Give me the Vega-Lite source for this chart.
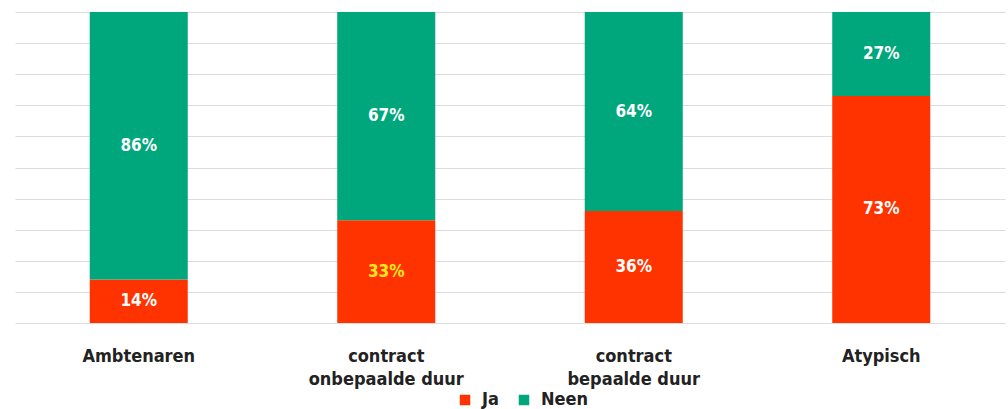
{
  "$schema": "https://vega.github.io/schema/vega-lite/v6.json",
  "width": 990,
  "height": 311,
  "autosize": {"type": "none"},
  "padding": {"left": 15, "top": 12, "right": 3, "bottom": 86},
  "background": "white",
  "config": {"view": {"stroke": null}, "font": "DejaVu Sans Condensed"},
  "data": {"values": [
    {"cat": "Ambtenaren", "ans": "Ja", "pct": 14},
    {"cat": "Ambtenaren", "ans": "Neen", "pct": 86},
    {"cat": "contract onbepaalde duur", "ans": "Ja", "pct": 33},
    {"cat": "contract onbepaalde duur", "ans": "Neen", "pct": 67},
    {"cat": "contract bepaalde duur", "ans": "Ja", "pct": 36},
    {"cat": "contract bepaalde duur", "ans": "Neen", "pct": 64},
    {"cat": "Atypisch", "ans": "Ja", "pct": 73},
    {"cat": "Atypisch", "ans": "Neen", "pct": 27}
  ]},
  "encoding": {
    "x": {"field": "cat", "type": "nominal", "sort": null,
      "scale": {"paddingInner": 0.604, "paddingOuter": 0.302},
      "axis": {"title": null, "domain": false, "ticks": false, "labelAngle": 0,
        "labelFont": "DejaVu Sans Condensed", "labelFontWeight": "bold", "labelFontSize": 18,
        "labelColor": "#222222", "labelPadding": 24, "labelLineHeight": 23,
        "labelExpr": "indexof(datum.value, 'contract ') == 0 ? ['contract', slice(datum.value, 9)] : datum.value"}}
  },
  "layer": [
    {
      "mark": {"type": "bar"},
      "encoding": {
        "y": {"field": "pct", "type": "quantitative", "stack": "zero",
          "scale": {"domain": [0, 100]},
          "axis": {"title": null, "labels": false, "ticks": false, "domain": false,
            "grid": true, "gridColor": "#dcdcdc", "gridWidth": 1.2, "values": [0,10,20,30,40,50,60,70,80,90,100]}},
        "order": {"field": "ans", "sort": "ascending"},
        "color": {"field": "ans", "type": "nominal",
          "scale": {"domain": ["Ja", "Neen"], "range": ["#FF3300", "#00A67C"]},
          "legend": {"title": null, "orient": "none", "direction": "horizontal",
            "legendX": 441, "legendY": 379, "symbolType": "square", "symbolSize": 110,
            "labelFont": "DejaVu Sans Condensed", "labelFontWeight": "bold", "labelFontSize": 18,
            "labelColor": "#222222", "columnPadding": 16, "labelOffset": 8}}
      }
    },
    {
      "transform": [
        {"stack": "pct", "groupby": ["cat"], "sort": [{"field": "ans", "order": "ascending"}], "as": ["y0", "y1"]},
        {"calculate": "(datum.y0 + datum.y1) / 2", "as": "ymid"},
        {"calculate": "datum.pct + '%'", "as": "lbl"}
      ],
      "mark": {"type": "text", "font": "DejaVu Sans Condensed", "fontWeight": "bold", "fontSize": 17, "baseline": "middle"},
      "encoding": {
        "y": {"field": "ymid", "type": "quantitative", "scale": {"domain": [0, 100]},
          "axis": {"title": null, "labels": false, "ticks": false, "domain": false,
            "grid": true, "gridColor": "#dcdcdc", "gridWidth": 1.2, "values": [0,10,20,30,40,50,60,70,80,90,100]}},
        "text": {"field": "lbl"},
        "color": {"condition": {"test": "datum.cat == 'contract onbepaalde duur' && datum.ans == 'Ja'", "value": "#F4E71B"}, "value": "white"}
      }
    }
  ]
}
